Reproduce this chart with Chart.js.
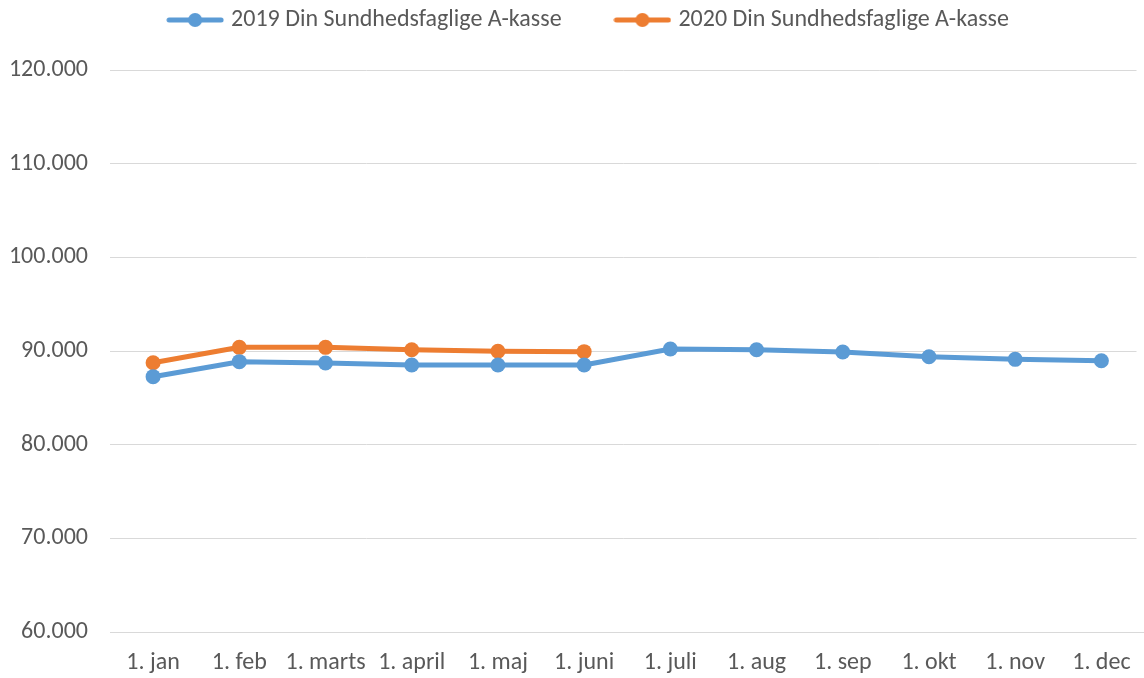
<!DOCTYPE html>
<html>
<head>
<meta charset="utf-8">
<script src="https://cdn.jsdelivr.net/npm/chart.js@4"></script>
<style>
  html, body { margin: 0; padding: 0; background: #fff; overflow: hidden; }
  #myChart { display: block; }
</style>
</head>
<body>
<canvas id="myChart" width="1144" height="678"></canvas>
<script>
// Data
const categories = ['1. jan', '1. feb', '1. marts', '1. april', '1. maj', '1. juni',
                    '1. juli', '1. aug', '1. sep', '1. okt', '1. nov', '1. dec'];
const values2019 = [87260, 88860, 88720, 88500, 88500, 88500, 90210, 90140, 89890, 89390, 89110, 88960];
const values2020 = [88750, 90390, 90390, 90140, 89970, 89930];
const seriesNames = ['2019 Din Sundhedsfaglige A-kasse', '2020 Din Sundhedsfaglige A-kasse'];

const blue = '#5b9bd5';
const orange = '#ed7d31';
const fontFamily = "Carlito, Calibri, Lato, 'Liberation Sans', sans-serif";
const fontSize = 24;

// legend marker: line with a dot in the middle
function legendMarker(color) {
    const c = document.createElement('canvas');
    c.width = 58; c.height = 16;
    const g = c.getContext('2d');
    g.strokeStyle = color;
    g.lineWidth = 5;
    g.lineCap = 'round';
    g.beginPath(); g.moveTo(3, 8); g.lineTo(55, 8); g.stroke();
    g.fillStyle = color;
    g.beginPath(); g.arc(29, 8, 7, 0, Math.PI * 2); g.fill();
    return c;
}

function fmt(v) {
    return String(v).replace(/\B(?=(\d{3})+(?!\d))/g, '.');
}

// room under the legend, legend nudged right, and the x axis running a bit past the right edge (as in the original)
const tweaks = {
    id: 'tweaks',
    beforeInit(chart) {
        const fit = chart.legend.fit;
        chart.legend.fit = function () {
            fit.bind(chart.legend)();
            this.height += 28;
        };
    },
    afterLayout(chart) {
        chart.legend.left += 18;
        chart.legend.right += 18;
        const x = chart.scales.x;
        x.right += 8;
        x.width += 8;
        x.configure();
    }
};

const ctx = document.getElementById('myChart').getContext('2d');
new Chart(ctx, {
    type: 'line',
    data: {
        labels: categories,
        datasets: [{
            label: seriesNames[0],
            data: values2019,
            borderColor: blue,
            backgroundColor: blue,
            borderWidth: 5,
            pointRadius: 7.5,
            pointHoverRadius: 7.5,
            pointBorderWidth: 0,
            tension: 0
        }, {
            label: seriesNames[1],
            data: values2020,
            borderColor: orange,
            backgroundColor: orange,
            borderWidth: 5,
            pointRadius: 7.5,
            pointHoverRadius: 7.5,
            pointBorderWidth: 0,
            tension: 0
        }]
    },
    plugins: [tweaks],
    options: {
        responsive: false,
        animation: false,
        layout: { padding: 0 },
        plugins: {
            tooltip: { enabled: false },
            legend: {
                position: 'top',
                labels: {
                    usePointStyle: true,
                    pointStyleWidth: 48,
                    color: '#595959',
                    font: { family: fontFamily, size: fontSize },
                    padding: 8,
                    generateLabels: chart => chart.data.datasets.map((ds, i) => ({
                        // trailing spaces widen the gap between the two legend items
                        text: i === 0 ? ds.label + ' '.repeat(9) : ds.label,
                        pointStyle: legendMarker(ds.borderColor),
                        fillStyle: ds.borderColor,
                        strokeStyle: ds.borderColor,
                        lineWidth: 0,
                        fontColor: '#595959',
                        datasetIndex: i,
                        hidden: false
                    }))
                }
            }
        },
        scales: {
            x: {
                offset: true,
                grid: { display: false, drawTicks: false },
                border: { color: '#d9d9d9', width: 1 },
                ticks: { color: '#595959', font: { family: fontFamily, size: fontSize }, padding: 17, maxRotation: 0, autoSkip: false },
                afterFit: axis => { axis.height = 46; }
            },
            y: {
                min: 60000,
                max: 120000,
                grid: { color: '#d9d9d9', lineWidth: 1, drawTicks: false },
                border: { display: false },
                ticks: {
                    stepSize: 10000,
                    color: '#595959',
                    font: { family: fontFamily, size: fontSize },
                    padding: 22,
                    callback: v => fmt(v)
                },
                afterFit: axis => { axis.width = 110; }
            }
        }
    }
});
</script>
</body>
</html>
